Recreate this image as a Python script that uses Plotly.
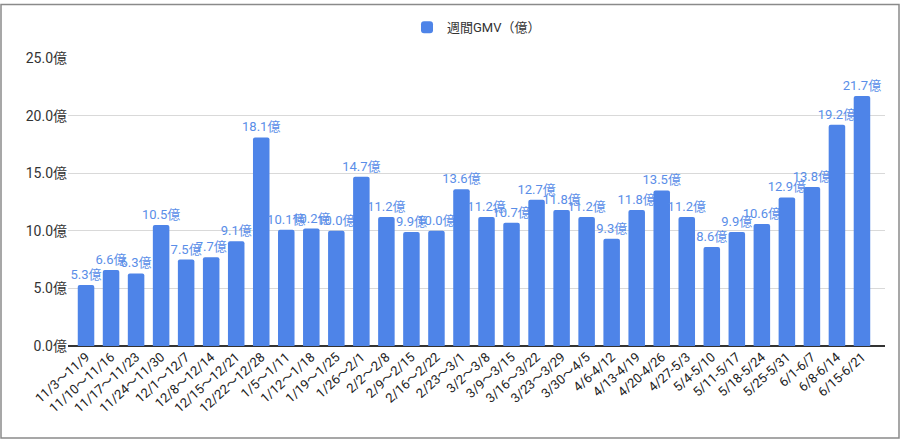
import plotly.graph_objects as go

weeks = ["11/3～11/9", "11/10～11/16", "11/17～11/23", "11/24～11/30", "12/1～12/7",
         "12/8～12/14", "12/15～12/21", "12/22～12/28", "1/5～1/11", "1/12～1/18",
         "1/19～1/25", "1/26～2/1", "2/2～2/8", "2/9～2/15", "2/16～2/22", "2/23～3/1",
         "3/2～3/8", "3/9～3/15", "3/16～3/22", "3/23～3/29", "3/30～4/5", "4/6-4/12",
         "4/13-4/19", "4/20-4/26", "4/27-5/3", "5/4-5/10", "5/11-5/17", "5/18-5/24",
         "5/25-5/31", "6/1-6/7", "6/8-6/14", "6/15-6/21"]
gmv = [5.3, 6.6, 6.3, 10.5, 7.5, 7.7, 9.1, 18.1, 10.1, 10.2, 10.0, 14.7, 11.2, 9.9, 10.0,
       13.6, 11.2, 10.7, 12.7, 11.8, 11.2, 9.3, 11.8, 13.5, 11.2, 8.6, 9.9, 10.6, 12.9,
       13.8, 19.2, 21.7]
y_ticks = [0, 5, 10, 15, 20, 25]
y_ticktext = [f"{v:.1f}億" for v in y_ticks]

FONT = "Roboto, Arial, 'Noto Sans CJK JP', sans-serif"
BAR = "#4e84e8"
LABEL = "#5a8ee8"

W, H = 900, 440
ML, MR, MT, MB = 68, 15, 55, 94

fig = go.Figure()
fig.add_trace(go.Bar(
    x=weeks, y=gmv, name="週間GMV（億）",
    marker=dict(color=BAR, line=dict(width=0), cornerradius=2),
    texttemplate="%{y:.1f}億", textposition="outside", constraintext="none",
    textfont=dict(color=LABEL, size=13, family=FONT),
    cliponaxis=False,
))

pw = W - ML - MR
ph = H - MT - MB
fig.add_shape(type="rect", xref="paper", yref="paper",
              x0=-(ML - 1) / pw, x1=1 + (MR - 1) / pw,
              y0=-(MB - 1) / ph, y1=1 + (MT - 1) / ph,
              line=dict(color="#8a8a8a", width=1.5), fillcolor="rgba(0,0,0,0)", layer="above")

n = len(weeks)
fig.update_layout(
    width=W, height=H,
    margin=dict(l=ML, r=MR, t=MT, b=MB),
    paper_bgcolor="white", plot_bgcolor="white",
    font=dict(family=FONT, size=13, color="#333333"),
    bargap=0.34,
    showlegend=True,
    legend=dict(orientation="h", x=0.5, xanchor="center", y=1 + 31 / ph, yanchor="middle",
                font=dict(size=13, color="#333333")),
    xaxis=dict(tickangle=-42, tickfont=dict(size=13, color="#222222"),
               range=[-0.72, n - 1 + 0.92],
               showgrid=False, showline=False, ticks=""),
    yaxis=dict(range=[0, 25], tickvals=y_ticks, ticktext=y_ticktext,
               tickfont=dict(size=14, color="#333333"),
               showgrid=True, gridcolor="#d9d9d9", gridwidth=1,
               zeroline=True, zerolinecolor="#333333", zerolinewidth=1.5,
               ticks="", ticklen=0),
)

fig.write_html("out.html")
